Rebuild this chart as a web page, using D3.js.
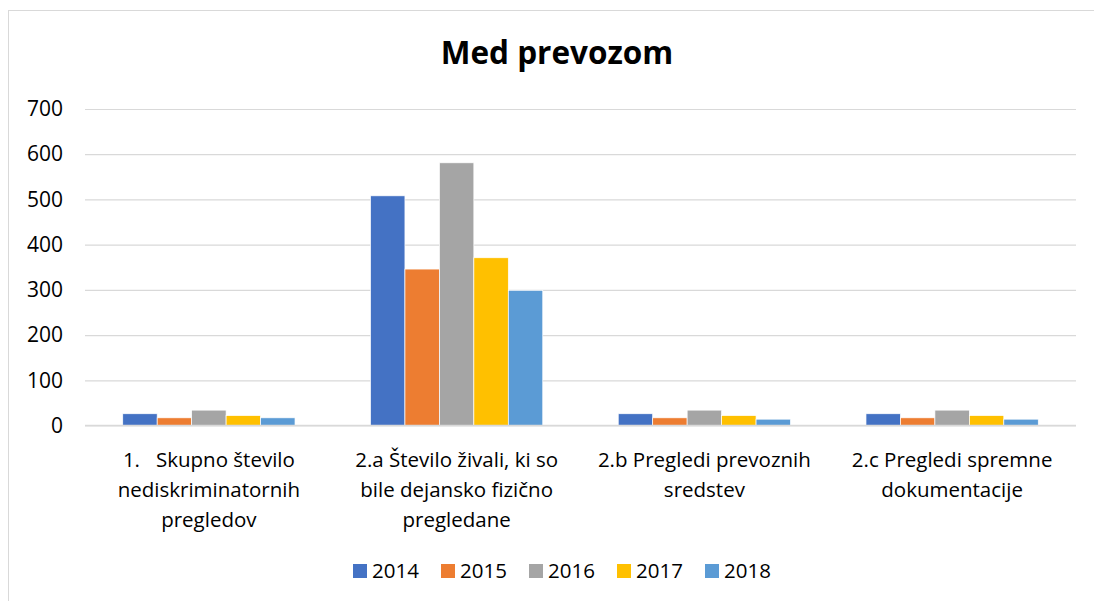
<!DOCTYPE html>
<html>
<head>
<meta charset="utf-8">
<script src="https://cdn.jsdelivr.net/npm/d3@7"></script>
<style>
  body { margin: 0; background: #fff; }
  svg { display: block; font-family: "Open Sans", "Liberation Sans", sans-serif; }
</style>
</head>
<body>
<svg id="chart" width="1094" height="601"></svg>
<script>
const categories = [
    ['1.   Skupno število', 'nediskriminatornih', 'pregledov'],
    ['2.a Število živali, ki so', 'bile dejansko fizično', 'pregledane'],
    ['2.b Pregledi prevoznih', 'sredstev'],
    ['2.c Pregledi spremne', 'dokumentacije']
];
const years = ['2014', '2015', '2016', '2017', '2018'];
const colors = ['#4472c4', '#ed7d31', '#a5a5a5', '#ffc000', '#5b9bd5'];
const v2014 = [26, 508, 26, 26];
const v2015 = [17, 346, 17, 17];
const v2016 = [34, 581, 34, 34];
const v2017 = [22, 371, 22, 22];
const v2018 = [17, 299, 14, 14];
const yTicks = [0, 100, 200, 300, 400, 500, 600, 700];

const series = [v2014, v2015, v2016, v2017, v2018];

const svg = d3.select('#chart');

// chart area border (right and bottom run off the picture)
svg.append('rect')
    .attr('x', 8.5).attr('y', 10.5)
    .attr('width', 1100).attr('height', 620)
    .attr('fill', 'none')
    .attr('stroke', '#d9d9d9');

const margin = { left: 85, right: 1076, top: 109, bottom: 425.5 };

const x0 = d3.scaleBand()
    .domain(d3.range(categories.length))
    .range([margin.left, margin.right]);

// Excel gap width 219%
const barW = x0.bandwidth() / (5 + 2.19);
const x1 = d3.scaleBand()
    .domain(d3.range(years.length))
    .range([0, barW * 5]);

const y = d3.scaleLinear()
    .domain([0, 700])
    .range([margin.bottom, margin.top]);

// gridlines + y labels
const yAxis = d3.axisLeft(y)
    .tickValues(yTicks)
    .tickSize(-(margin.right - margin.left))
    .tickPadding(22);

const yAxisG = svg.append('g')
    .attr('transform', `translate(${margin.left}, 0)`)
    .call(yAxis);
yAxisG.select('.domain').remove();
yAxisG.selectAll('line').attr('stroke', '#d9d9d9').attr('stroke-width', 1.2);
yAxisG.selectAll('text')
    .style('font-size', '21px')
    .attr('fill', '#000')
    .attr('font-family', '"Open Sans", sans-serif');

// bars
series.forEach((vals, s) => {
    svg.append('g').selectAll('rect').data(vals)
        .enter().append('rect')
        .attr('x', (d, i) => x0(i) + (x0.bandwidth() - barW * 5) / 2 + x1(s))
        .attr('y', d => y(d))
        .attr('width', x1.bandwidth())
        .attr('height', d => y(0) - y(d))
        .attr('fill', colors[s])
        .attr('stroke', '#fff')
        .attr('stroke-width', 0.7);
});

// baseline
svg.append('line')
    .attr('x1', margin.left).attr('x2', margin.right)
    .attr('y1', y(0)).attr('y2', y(0))
    .attr('stroke', '#d9d9d9').attr('stroke-width', 1.5);

// category labels
const catG = svg.append('g');
categories.forEach((lines, i) => {
    const t = catG.append('text')
        .attr('text-anchor', 'middle')
        .style('font-size', '20.5px')
        .attr('fill', '#000')
        .attr('xml:space', 'preserve');
    lines.forEach((ln, k) => {
        t.append('tspan')
            .attr('x', x0(i) + x0.bandwidth() / 2)
            .attr('y', 467 + k * 30)
            .text(ln);
    });
});

// title
svg.append('text')
    .attr('x', 557)
    .attr('y', 64)
    .attr('text-anchor', 'middle')
    .style('font-size', '31.5px')
    .style('font-weight', 'bold')
    .attr('fill', '#000')
    .text('Med prevozom');

// legend
const legend = svg.append('g');
years.forEach((yr, i) => {
    const lx = 353 + i * 88;
    legend.append('rect')
        .attr('x', lx).attr('y', 564)
        .attr('width', 14).attr('height', 14)
        .attr('fill', colors[i]);
    legend.append('text')
        .attr('x', lx + 19).attr('y', 578)
        .style('font-size', '20.5px')
        .attr('fill', '#000')
        .text(yr);
});
</script>
</body>
</html>
